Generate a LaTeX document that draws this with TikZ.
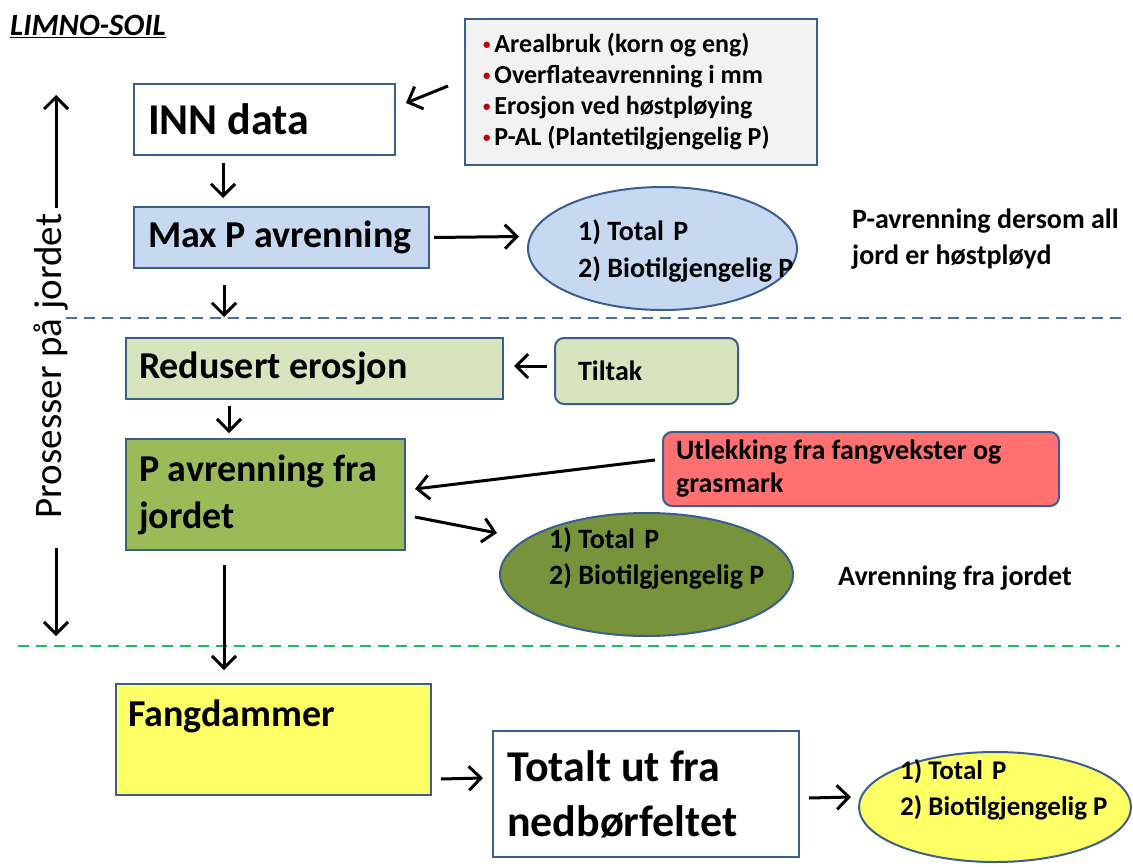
\documentclass[tikz,border=0pt]{standalone}
\usepackage{fontspec}
\setmainfont{Carlito}
\usetikzlibrary{arrows.meta,calc,shapes.geometric}
\definecolor{bordercol}{HTML}{3A5F8F}
\definecolor{grayfill}{HTML}{F2F2F2}
\definecolor{bluefill}{HTML}{C6D9F1}
\definecolor{lgreen}{HTML}{D7E4BD}
\definecolor{mgreen}{HTML}{9BBB59}
\definecolor{dgreen}{HTML}{77933C}
\definecolor{redfill}{HTML}{FF7171}
\definecolor{yellowfill}{HTML}{FFFF66}
\definecolor{bluedash}{HTML}{4A70A8}
\definecolor{greendash}{HTML}{1DBF5A}
\definecolor{bulletred}{HTML}{C00000}
\newcommand\fsz[2]{\fontsize{#1}{#2}\selectfont}
\newcommand\bul{{\color{bulletred}\fsz{15}{15}\raisebox{3pt}{\textbullet}}\hspace{4pt}}
\begin{document}
\begin{tikzpicture}[x=1pt,y=-1pt,
  box/.style={draw=bordercol, line width=2pt, anchor=north west, inner ysep=0pt, align=flush left},
  rbox/.style={box, rounded corners=9pt},
  ell/.style={ellipse, draw=bordercol, line width=2pt, inner sep=0pt},
  txt/.style={anchor=base west, inner sep=0pt, align=flush left},
  arr/.style={line width=3pt, -{Straight Barb[length=12pt,width=24pt,line width=3pt]}},
  bdash/.style={draw=bluedash, line width=2pt, dash pattern=on 11pt off 7pt},
  gdash/.style={draw=greendash, line width=2pt, dash pattern=on 11pt off 7pt}]
\useasboundingbox (0,0) rectangle (1133,867);

% title
\node[txt, font=\fsz{31}{31}\bfseries\itshape] (title) at (10,36) {\underline{LIMNO-SOIL}};

% dashed separators
\coordinate (bdl) at (66,318);
\coordinate (bdr) at (1125,318);
\coordinate (gdl) at (18,646);
\coordinate (gdr) at (1120,646);
\draw[bdash] (bdl) -- (bdr);
\draw[gdash] (gdl) -- (gdr);

% input list
\node[box, fill=grayfill, inner xsep=18pt, text width=316pt, minimum width=352pt, minimum height=146pt,
      font=\fsz{26}{31}\bfseries] (inp) at (464,18)
  {\bul Arealbruk (korn og eng)\\ \bul Overflateavrenning i mm\\ \bul Erosjon ved høstpløying\\ \bul P-AL (Plantetilgjengelig P)};

% main boxes
\node[box, fill=white, inner xsep=14pt, text width=233pt, minimum width=261pt, minimum height=71pt,
      font=\fsz{44}{50}\bfseries] (inn) at (133,83) {INN data};
\node[box, fill=bluefill, inner xsep=14pt, text width=267pt, minimum width=295pt, minimum height=61pt,
      font=\fsz{38}{44}\bfseries] (max) at (133,206) {Max P avrenning};
\node[box, fill=lgreen, inner xsep=13pt, text width=351pt, minimum width=377pt, minimum height=61pt,
      font=\fsz{38}{44}\bfseries] (red) at (125,337) {Redusert erosjon};
\node[rbox, fill=lgreen, inner xsep=23pt, text width=137pt, minimum width=183pt, minimum height=66pt,
      font=\fsz{28}{32}\bfseries] (tilt) at (554,337) {Tiltak};
\node[box, fill=mgreen, inner xsep=13pt, text width=253pt, minimum width=279pt, minimum height=111pt,
      font=\fsz{38}{47}\bfseries] (pavr) at (125,438) {P avrenning fra\\jordet};
\node[rbox, fill=redfill, inner xsep=13pt, text width=370pt, minimum width=396pt, minimum height=74pt,
      font=\fsz{28}{33}\bfseries] (utl) at (662,431) {Utlekking fra fangvekster og\\grasmark};
\node[box, fill=yellowfill, minimum width=315pt, minimum height=111pt] (fang) at (115,683) {};
\node[txt, font=\fsz{38}{44}\bfseries] (fangtxt) at (128,726) {Fangdammer};
\node[box, fill=white, inner xsep=14pt, text width=278pt, minimum width=306pt, minimum height=126pt,
      font=\fsz{44}{55}\bfseries] (tot) at (492,730) {Totalt ut fra\\nedbørfeltet};

% ellipses
\node[ell, fill=bluefill, minimum width=269pt, minimum height=123pt] (ellb) at (662.5,248.5) {};
\node[txt, font=\fsz{28}{37}\bfseries] (ellbtxt) at (578,277) {1) Total\,\,P\\2) Biotilgjengelig P};
\node[ell, fill=dgreen, minimum width=293pt, minimum height=123pt] (ellg) at (646.5,574.5) {};
\node[txt, font=\fsz{28}{36}\bfseries] (ellgtxt) at (549,584) {1) Total\,\,P\\2) Biotilgjengelig P};
\node[ell, fill=yellowfill, minimum width=272pt, minimum height=110pt] (elly) at (995,807) {};
\node[txt, font=\fsz{27}{36}\bfseries] (ellytxt) at (900,815) {1) Total\,\,P\\2) Biotilgjengelig P};

% side texts
\node[txt, font=\fsz{28}{36}\bfseries] (note1) at (852,264) {P-avrenning dersom all\\jord er høstpløyd};
\node[txt, font=\fsz{28}{36}\bfseries] (note2) at (838,585) {Avrenning fra jordet};

% vertical process label
\node[rotate=90, inner sep=0pt, font=\fsz{39}{39}] (proc) at (51,366) {Prosesser på jordet};
\coordinate (uptip) at (56,95);
\coordinate (downtip) at (56,636);
\draw[arr] ($(proc.east)+(5,-6)$) -- (uptip);
\draw[arr] ($(proc.west)+(5,30)$) -- (downtip);

% connectors
\coordinate (maxdown) at (224,317);
\draw[arr] ($(inp.west)+(-16,-6)$) -- ($(inn.east)+(10,-16.5)$);
\draw[arr] ($(inn.south west)+(90,7)$) -- ($(max.north west)+(90,-8)$);
\draw[arr] ($(max.south west)+(91,16)$) -- (maxdown);
\draw[arr] ($(max.east)+(4,0)$) -- ($(ellb.west)+(-8,-12)$);
\draw[arr] ($(tilt.west)+(-7,-5)$) -- ($(red.east)+(10,-2.5)$);
\draw[arr] ($(red.south west)+(104,6)$) -- ($(pavr.north west)+(104,-5)$);
\draw[arr] ($(utl.west)+(-7,-9)$) -- ($(pavr.east)+(9,-5.5)$);
\draw[arr] ($(pavr.east)+(9,22.5)$) -- ($(ellg.west)+(-2,-41.5)$);
\draw[arr] ($(pavr.south west)+(99,14)$) -- ($(fang.north west)+(109,-13)$);
\draw[arr] ($(fang.south east)+(9,-17)$) -- ($(tot.west)+(-9,-16)$);
\draw[arr] ($(tot.east)+(9,4)$) -- ($(elly.west)+(-7,-10)$);
\end{tikzpicture}
\end{document}
